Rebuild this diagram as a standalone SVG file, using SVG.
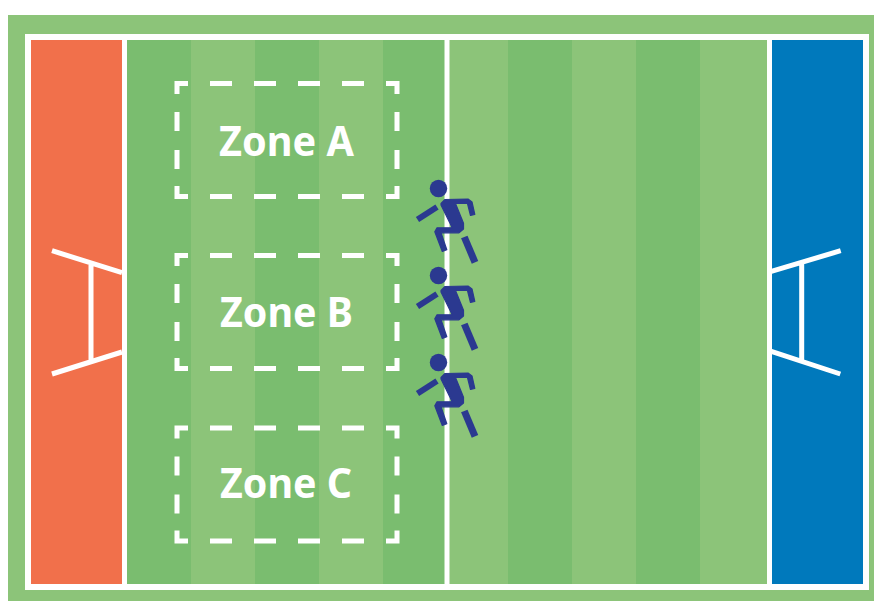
<svg xmlns="http://www.w3.org/2000/svg" width="874" height="601" viewBox="0 0 874 601">
<style>
.light{fill:#8cc479}.dark{fill:#7abd6f}
.w{stroke:#fff;stroke-width:5;fill:none}
.z{stroke:#fff;stroke-width:5;fill:none}
.t{font-family:"Noto Sans","Open Sans",sans-serif;font-weight:700;font-size:42px;fill:#fff;text-anchor:middle}
.navy{fill:#2b3990}.body{stroke:#2b3990;stroke-width:1.200;stroke-linejoin:round}.arm{stroke:#2b3990;stroke-width:6;fill:none}.leg{stroke:#2b3990;stroke-width:7;fill:none}
</style>
<defs>
<g id="runner">
<circle class="navy" cx="438.500" cy="188.500" r="8.700"/>
<path class="navy body" d="M441 203.500L445 199.500L468 199L472 202L474.800 214.500L470.500 215.500L467.500 203.500L455.500 203.500L463.500 223.300L463.500 229L459 232.800L441 232.800L446.800 249.800L442.300 251.500L434.800 231.700L437 227.800L452.200 227.800L441 205Z"/>
<path class="arm" d="M417.500 219.500L437 207"/>
<path class="leg" d="M464.300 237L475 262.300"/>
</g>
<g id="zone">
<path class="z" d="M188 83.500H177V94M386 83.500H397V94M188 196.500H177V186M386 196.500H397V186M210 83.500H232M254 83.500H276M298 83.500H320M342 83.500H364M210 196.500H232M254 196.500H276M298 196.500H320M342 196.500H364M177 112V131M177 150V169M397 112V131M397 150V169"/>
</g>
</defs>
<g id="pitch">
<rect x="8" y="15" width="866" height="586" class="light"/>
<rect x="25" y="34" width="844" height="556" fill="#fff"/>
<rect x="31" y="40" width="91" height="544" fill="#f1704b"/>
<rect x="772" y="40" width="91" height="544" fill="#0079bc"/>
<rect x="127" y="40" width="64" height="544" class="dark"/>
<rect x="191" y="40" width="64" height="544" class="light"/>
<rect x="255" y="40" width="64" height="544" class="dark"/>
<rect x="319" y="40" width="64" height="544" class="light"/>
<rect x="383" y="40" width="61.500" height="544" class="dark"/>
<rect x="449.500" y="40" width="58.500" height="544" class="light"/>
<rect x="508" y="40" width="64" height="544" class="dark"/>
<rect x="572" y="40" width="64" height="544" class="light"/>
<rect x="636" y="40" width="64" height="544" class="dark"/>
<rect x="700" y="40" width="67" height="544" class="light"/>
</g>
<g id="goal-left">
<path class="w" d="M52 250.700L122 272.700M52 374L122 352M91 265V360"/>
</g>
<g id="goal-right">
<path class="w" d="M840.700 250.700L771.300 271.300M840.300 374L771.300 351.300M801.700 264V361"/>
</g>
<g id="zone-a"><use href="#zone"/><text class="t" x="286.500" y="155.500" textLength="135" lengthAdjust="spacingAndGlyphs">Zone A</text></g>
<g id="zone-b"><use href="#zone" y="172"/><text class="t" x="286.500" y="327" textLength="133" lengthAdjust="spacingAndGlyphs">Zone B</text></g>
<g id="zone-c"><use href="#zone" y="344.500"/><text class="t" x="286" y="498" textLength="132" lengthAdjust="spacingAndGlyphs">Zone C</text></g>
<g id="player-1"><use href="#runner"/></g>
<g id="player-2"><use href="#runner" y="87"/></g>
<g id="player-3"><use href="#runner" y="174"/></g>
</svg>
